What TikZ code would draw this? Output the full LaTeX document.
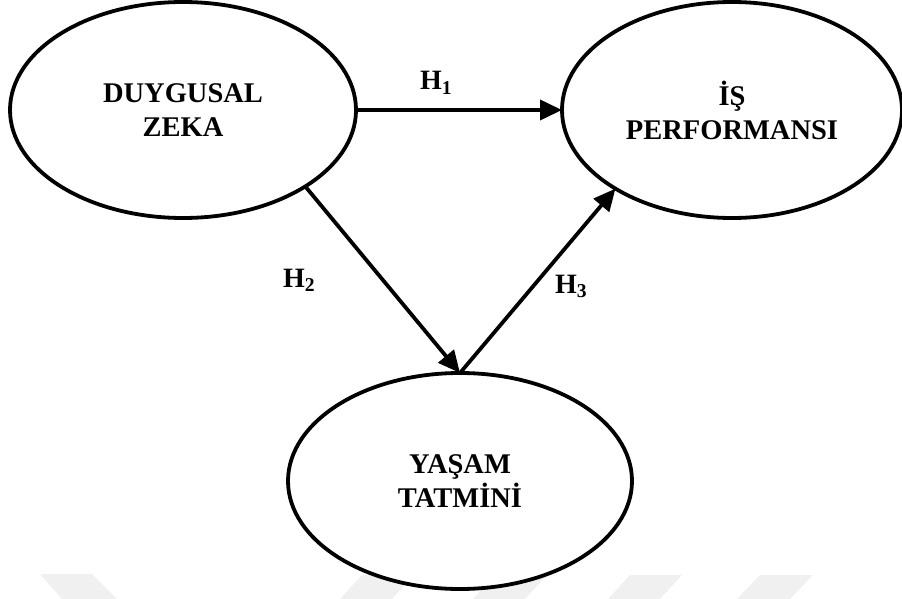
\documentclass[tikz,border=0pt]{standalone}
\usepackage{fontspec}
\setmainfont{Liberation Serif}
\usetikzlibrary{arrows.meta,shapes.geometric}

\tikzset{
  construct/.style={ellipse, draw, fill=white, line width=3.8pt,
    minimum width=346pt, minimum height=216pt, inner sep=0pt, outer sep=0pt,
    align=center, font=\bfseries\fontsize{28.5}{34}\selectfont},
  path/.style={line width=3.8pt, -{Triangle[length=22pt,width=20pt]}},
  hyp/.style={anchor=base west, inner sep=0pt, font=\bfseries\fontsize{28}{34}\selectfont},
  stripe/.style={fill=black!6, draw=none}
}

\begin{document}
\begin{tikzpicture}[x=1pt,y=-1pt]
  \useasboundingbox (0,0) rectangle (902,599);

  % faint stripes along the lower edge
  \fill[stripe] (40,574) -- (92,574) -- (117,599) -- (62,599) -- cycle;
  \fill[stripe] (362,575) -- (414,575) -- (392,599) -- (340,599) -- cycle;
  \fill[stripe] (495,575) -- (547,575) -- (525,599) -- (473,599) -- cycle;
  \fill[stripe] (630,575) -- (682,575) -- (660,599) -- (608,599) -- cycle;
  \fill[stripe] (760,575) -- (813,575) -- (790,599) -- (737,599) -- cycle;

  % constructs
  \node[construct] (dz) at (183,110) {DUYGUSAL\\ZEKA};
  \node[construct, minimum width=340pt] (ip) at (732,110) {İŞ\\PERFORMANSI};
  \node[construct, minimum width=344pt] (yt) at (460,481) {YAŞAM\\TATMİNİ};

  % hypothesised paths
  \draw[path] (dz.east) -- (ip.west);
  \draw[path] (dz.-32.6) -- (yt.north);
  \draw[path] (yt.north) -- (ip.-146.7);

  % path labels
  \node[hyp] (h1) at (420,90) {H\textsubscript{1}};
  \node[hyp] (h2) at (283,287) {H\textsubscript{2}};
  \node[hyp] (h3) at (555,293) {H\textsubscript{3}};
\end{tikzpicture}
\end{document}
